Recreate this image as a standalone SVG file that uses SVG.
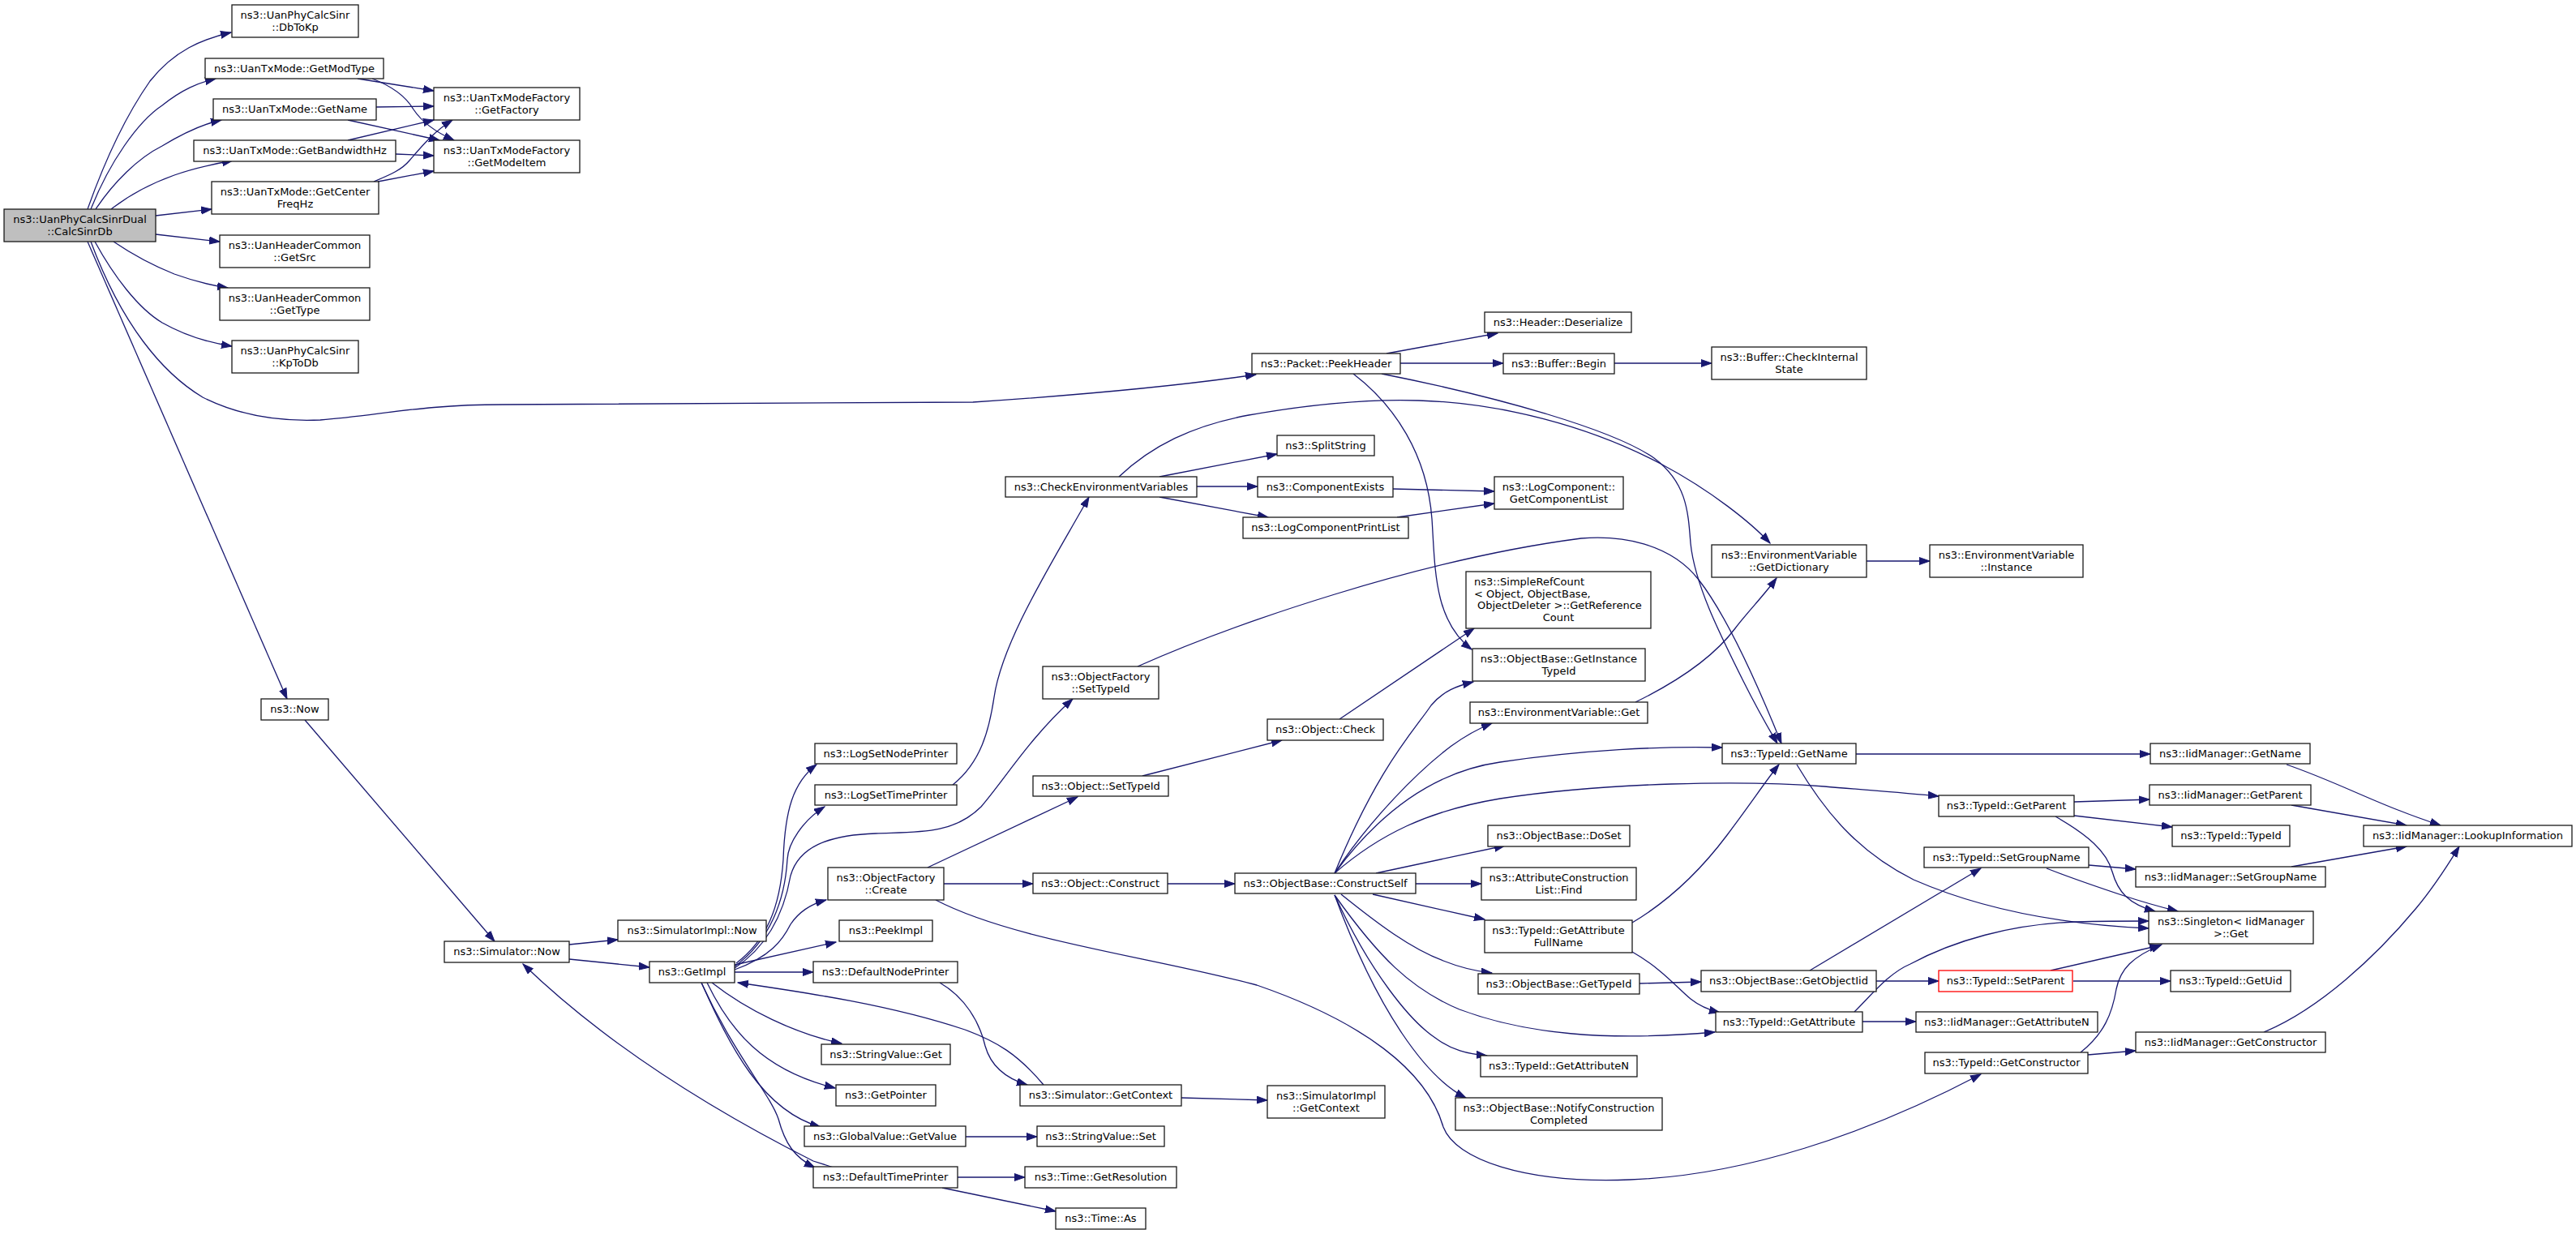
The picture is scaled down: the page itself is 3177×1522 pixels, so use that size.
<svg xmlns="http://www.w3.org/2000/svg" width="3177" height="1522" viewBox="0 0 3177 1522">
<style>
.n rect{fill:#fff;stroke:#1a1a1a;stroke-width:1.3}
.main rect{fill:#bfbfbf}
.red rect{stroke:#ff0000}
text{font-family:"DejaVu Sans","Liberation Sans",sans-serif;font-size:13px;text-anchor:middle;fill:#000}
text.l{text-anchor:start}
#edges path{fill:none;stroke:#191970;stroke-width:1.3;marker-end:url(#ah)}
</style>
<defs>
<marker id="ah" markerUnits="userSpaceOnUse" markerWidth="15" markerHeight="11" refX="13" refY="5" orient="auto">
<path d="M0,0.5 L13,5 L0,9.5 z" fill="#191970" stroke="#191970" stroke-width="1"/>
</marker>
</defs>
<rect width="3177" height="1522" fill="#fff"/>
<g id="edges">
<path d="M108,258 C125,210 150,150 185,100 C215,62 250,48 285,40"/>
<path d="M112,258 C135,200 170,150 200,130 C225,110 245,102 266,97"/>
<path d="M118,258 C140,225 170,195 200,180 C225,165 250,153 273,148"/>
<path d="M137,258 C160,240 190,225 215,216 C240,207 265,202 287,198"/>
<path d="M192,266 L261,258"/>
<path d="M192,289 L271,298"/>
<path d="M140,298 C165,315 190,328 215,338 C240,347 260,352 281,355"/>
<path d="M117,298 C140,340 170,380 200,398 C230,415 260,423 286,427"/>
<path d="M108,298 L354,862"/>
<path d="M112,298 C150,400 200,460 250,490 C300,515 350,520 395,518 C470,512 520,499 620,499 L1200,496 C1320,488 1440,478 1549,462"/>
<path d="M441,97 L535,112"/>
<path d="M459,97 C480,105 500,118 510,135 C520,150 535,162 560,173"/>
<path d="M464,132 L535,131"/>
<path d="M429,148 L542,173"/>
<path d="M429,173 L535,148"/>
<path d="M488,190 L535,192"/>
<path d="M461,224 C480,216 495,210 505,198 C518,183 535,162 558,148"/>
<path d="M466,224 L535,211"/>
<path d="M1710,436 L1847,411"/>
<path d="M1727,448 L1854,448"/>
<path d="M1991,448 L2111,448"/>
<path d="M1669,461 C1720,500 1760,560 1766,640 C1770,700 1768,765 1815,801"/>
<path d="M1704,461 C1850,490 1990,530 2040,565 C2080,595 2082,630 2085,670 C2090,720 2120,780 2150,840 C2170,880 2185,905 2192,917"/>
<path d="M1430,588 L1575,560"/>
<path d="M1476,600 L1551,600"/>
<path d="M1430,613 L1564,638"/>
<path d="M1718,603 L1843,606"/>
<path d="M1723,638 L1843,621"/>
<path d="M1380,588 C1420,550 1470,525 1540,512 C1620,498 1690,492 1750,494 C1850,497 1960,525 2050,573 C2110,605 2160,645 2183,670"/>
<path d="M2302,692 L2380,692"/>
<path d="M2017,866 C2060,845 2110,815 2140,775 C2155,755 2175,735 2191,713"/>
<path d="M376,888 L610,1161"/>
<path d="M702,1165 L762,1159"/>
<path d="M702,1183 L801,1193"/>
<path d="M908,1188 C945,1160 962,1120 966,1060 C968,1000 978,965 1007,943"/>
<path d="M906,1192 C950,1160 968,1110 971,1060 C972,1040 990,1012 1017,995"/>
<path d="M906,1194 C950,1165 968,1120 975,1080 C985,1045 1020,1030 1080,1028 C1130,1026 1175,1030 1210,995 C1240,960 1270,910 1323,862"/>
<path d="M906,1196 C950,1180 965,1160 975,1140 C985,1125 1000,1115 1019,1110"/>
<path d="M906,1190 L1031,1162"/>
<path d="M906,1199 L1003,1199"/>
<path d="M878,1212 C920,1245 980,1275 1038,1287"/>
<path d="M872,1212 C900,1270 940,1320 1030,1342"/>
<path d="M865,1212 C900,1290 940,1370 1012,1390"/>
<path d="M865,1212 C905,1300 950,1350 960,1380 C968,1410 980,1428 1005,1440"/>
<path d="M1028,1440 L1003,1432 C900,1380 760,1300 645,1189"/>
<path d="M1159,1212 C1190,1230 1208,1260 1215,1290 C1222,1315 1240,1330 1267,1338"/>
<path d="M1287,1338 C1255,1300 1230,1285 1190,1270 C1100,1240 1000,1225 910,1212"/>
<path d="M1457,1354 L1563,1357"/>
<path d="M1191,1402 L1279,1402"/>
<path d="M1181,1452 L1264,1452"/>
<path d="M1162,1465 L1302,1494"/>
<path d="M1175,968 C1210,940 1220,900 1226,860 C1236,790 1300,690 1343,613"/>
<path d="M1403,822 C1520,770 1750,690 1950,664 C2000,660 2060,670 2095,715 C2130,760 2170,850 2197,917"/>
<path d="M1652,887 L1818,775"/>
<path d="M1409,957 L1581,913"/>
<path d="M1144,1070 L1329,983"/>
<path d="M1164,1090 L1274,1090"/>
<path d="M1154,1110 C1250,1160 1420,1180 1550,1215 C1680,1260 1760,1320 1780,1390 C1795,1430 1880,1460 2010,1455 C2150,1450 2300,1400 2443,1325"/>
<path d="M1440,1090 L1523,1090"/>
<path d="M1646,1077 C1700,945 1745,900 1765,870 C1780,852 1797,846 1817,841"/>
<path d="M1646,1077 C1690,1010 1750,950 1790,920 C1808,907 1825,898 1840,892"/>
<path d="M1646,1077 C1710,990 1780,950 1850,940 C1950,925 2050,920 2124,922"/>
<path d="M1646,1077 C1700,1030 1760,1000 1850,985 C1980,965 2150,962 2250,970 C2310,975 2350,978 2391,982"/>
<path d="M1697,1077 L1856,1043"/>
<path d="M1746,1090 L1827,1090"/>
<path d="M1693,1103 L1831,1134"/>
<path d="M1654,1103 C1700,1140 1740,1170 1780,1185 C1800,1193 1820,1198 1840,1200"/>
<path d="M1646,1104 C1700,1180 1740,1220 1800,1245 C1880,1275 1980,1285 2115,1273"/>
<path d="M1646,1104 C1690,1200 1740,1260 1770,1280 C1790,1295 1810,1300 1834,1302"/>
<path d="M1646,1104 C1700,1250 1760,1330 1808,1354"/>
<path d="M2013,1138 C2060,1110 2100,1070 2130,1030 C2160,990 2180,960 2194,943"/>
<path d="M2013,1174 C2050,1195 2070,1220 2085,1232 C2095,1240 2105,1245 2121,1249"/>
<path d="M2022,1213 L2098,1211"/>
<path d="M2232,1197 L2443,1071"/>
<path d="M2314,1210 L2391,1210"/>
<path d="M2297,1260 L2363,1260"/>
<path d="M2287,1248 C2310,1225 2330,1200 2356,1189 C2410,1160 2480,1140 2560,1137 C2600,1136 2630,1136 2650,1136"/>
<path d="M2289,930 L2652,930"/>
<path d="M2216,943 C2250,1000 2290,1050 2360,1085 C2440,1120 2540,1140 2650,1145"/>
<path d="M2558,989 L2651,986"/>
<path d="M2558,1006 L2679,1020"/>
<path d="M2535,1007 C2575,1030 2598,1050 2605,1075 C2612,1100 2625,1115 2658,1124"/>
<path d="M2576,1067 L2634,1072"/>
<path d="M2524,1071 C2560,1085 2590,1095 2620,1105 C2650,1115 2670,1120 2686,1124"/>
<path d="M2529,1197 L2664,1166"/>
<path d="M2557,1210 L2677,1210"/>
<path d="M2566,1298 C2595,1275 2605,1250 2610,1220 C2615,1195 2630,1180 2666,1165"/>
<path d="M2575,1301 L2634,1296"/>
<path d="M2792,1273 C2860,1245 2930,1180 2980,1120 C3005,1090 3020,1065 3033,1044"/>
<path d="M2820,943 C2870,960 2920,985 2960,1000 C2980,1008 2995,1013 3010,1018"/>
<path d="M2826,993 L2968,1018"/>
<path d="M2826,1069 L2968,1044"/>
</g>
<g id="n_main" class="n main"><rect x="5" y="258" width="187" height="40"/><text x="98.5" y="275">ns3::UanPhyCalcSinrDual</text><text x="98.5" y="289.5">::CalcSinrDb</text></g>
<g id="n_dbtokp" class="n"><rect x="286" y="6" width="156" height="40"/><text x="364" y="23">ns3::UanPhyCalcSinr</text><text x="364" y="37.5">::DbToKp</text></g>
<g id="n_getmodtype" class="n"><rect x="253" y="72" width="220" height="25"/><text x="363" y="89">ns3::UanTxMode::GetModType</text></g>
<g id="n_txgetname" class="n"><rect x="263" y="122" width="201" height="26"/><text x="363.5" y="139">ns3::UanTxMode::GetName</text></g>
<g id="n_getbw" class="n"><rect x="239" y="173" width="249" height="26"/><text x="363.5" y="190">ns3::UanTxMode::GetBandwidthHz</text></g>
<g id="n_getcf" class="n"><rect x="261" y="224" width="206" height="40"/><text x="364" y="241">ns3::UanTxMode::GetCenter</text><text x="364" y="255.5">FreqHz</text></g>
<g id="n_getfactory" class="n"><rect x="535" y="108" width="180" height="40"/><text x="625" y="125">ns3::UanTxModeFactory</text><text x="625" y="139.5">::GetFactory</text></g>
<g id="n_getmodeitem" class="n"><rect x="535" y="173" width="180" height="40"/><text x="625" y="190">ns3::UanTxModeFactory</text><text x="625" y="204.5">::GetModeItem</text></g>
<g id="n_getsrc" class="n"><rect x="271" y="290" width="185" height="40"/><text x="363.5" y="307">ns3::UanHeaderCommon</text><text x="363.5" y="321.5">::GetSrc</text></g>
<g id="n_gettype" class="n"><rect x="271" y="355" width="185" height="40"/><text x="363.5" y="372">ns3::UanHeaderCommon</text><text x="363.5" y="386.5">::GetType</text></g>
<g id="n_kptodb" class="n"><rect x="286" y="420" width="156" height="40"/><text x="364" y="437">ns3::UanPhyCalcSinr</text><text x="364" y="451.5">::KpToDb</text></g>
<g id="n_peekheader" class="n"><rect x="1544" y="436" width="183" height="25"/><text x="1635.5" y="453">ns3::Packet::PeekHeader</text></g>
<g id="n_deserialize" class="n"><rect x="1831" y="385" width="181" height="25"/><text x="1921.5" y="402">ns3::Header::Deserialize</text></g>
<g id="n_bufbegin" class="n"><rect x="1854" y="436" width="137" height="25"/><text x="1922.5" y="453">ns3::Buffer::Begin</text></g>
<g id="n_checkinternal" class="n"><rect x="2111" y="428" width="191" height="40"/><text x="2206.5" y="445">ns3::Buffer::CheckInternal</text><text x="2206.5" y="459.5">State</text></g>
<g id="n_checkenv" class="n"><rect x="1240" y="588" width="236" height="25"/><text x="1358" y="605">ns3::CheckEnvironmentVariables</text></g>
<g id="n_splitstring" class="n"><rect x="1575" y="537" width="120" height="25"/><text x="1635" y="554">ns3::SplitString</text></g>
<g id="n_compexists" class="n"><rect x="1551" y="588" width="167" height="25"/><text x="1634.5" y="605">ns3::ComponentExists</text></g>
<g id="n_logcompprint" class="n"><rect x="1533" y="638" width="204" height="26"/><text x="1635" y="655">ns3::LogComponentPrintList</text></g>
<g id="n_getcomplist" class="n"><rect x="1843" y="588" width="159" height="40"/><text x="1922.5" y="605">ns3::LogComponent::</text><text x="1922.5" y="619.5">GetComponentList</text></g>
<g id="n_simplerefcount" class="n"><rect x="1808" y="705" width="228" height="70"/><text class="l" x="1818" y="722">ns3::SimpleRefCount</text><text class="l" x="1818" y="736.5">&lt; Object, ObjectBase,</text><text class="l" x="1822" y="751">ObjectDeleter &gt;::GetReference</text><text x="1922" y="765.5">Count</text></g>
<g id="n_getdict" class="n"><rect x="2111" y="672" width="191" height="40"/><text x="2206.5" y="689">ns3::EnvironmentVariable</text><text x="2206.5" y="703.5">::GetDictionary</text></g>
<g id="n_instance" class="n"><rect x="2380" y="672" width="189" height="40"/><text x="2474.5" y="689">ns3::EnvironmentVariable</text><text x="2474.5" y="703.5">::Instance</text></g>
<g id="n_now" class="n"><rect x="322" y="862" width="83" height="26"/><text x="363.5" y="879">ns3::Now</text></g>
<g id="n_ofsettypeid" class="n"><rect x="1286" y="822" width="143" height="40"/><text x="1357.5" y="839">ns3::ObjectFactory</text><text x="1357.5" y="853.5">::SetTypeId</text></g>
<g id="n_logsetnode" class="n"><rect x="1005" y="917" width="175" height="25"/><text x="1092.5" y="934">ns3::LogSetNodePrinter</text></g>
<g id="n_logsettime" class="n"><rect x="1005" y="968" width="175" height="25"/><text x="1092.5" y="985">ns3::LogSetTimePrinter</text></g>
<g id="n_objcheck" class="n"><rect x="1563" y="887" width="143" height="26"/><text x="1634.5" y="904">ns3::Object::Check</text></g>
<g id="n_objsettypeid" class="n"><rect x="1274" y="957" width="167" height="25"/><text x="1357.5" y="974">ns3::Object::SetTypeId</text></g>
<g id="n_ofcreate" class="n"><rect x="1021" y="1070" width="143" height="40"/><text x="1092.5" y="1087">ns3::ObjectFactory</text><text x="1092.5" y="1101.5">::Create</text></g>
<g id="n_objconstruct" class="n"><rect x="1274" y="1077" width="166" height="25"/><text x="1357" y="1094">ns3::Object::Construct</text></g>
<g id="n_constructself" class="n"><rect x="1523" y="1077" width="223" height="25"/><text x="1634.5" y="1094">ns3::ObjectBase::ConstructSelf</text></g>
<g id="n_simimplnow" class="n"><rect x="762" y="1135" width="183" height="26"/><text x="853.5" y="1152">ns3::SimulatorImpl::Now</text></g>
<g id="n_peekimpl" class="n"><rect x="1035" y="1135" width="115" height="26"/><text x="1092.5" y="1152">ns3::PeekImpl</text></g>
<g id="n_getimpl" class="n"><rect x="801" y="1186" width="105" height="26"/><text x="853.5" y="1203">ns3::GetImpl</text></g>
<g id="n_defnodeprinter" class="n"><rect x="1003" y="1186" width="178" height="26"/><text x="1092" y="1203">ns3::DefaultNodePrinter</text></g>
<g id="n_simnow" class="n"><rect x="548" y="1161" width="154" height="26"/><text x="625" y="1178">ns3::Simulator::Now</text></g>
<g id="n_svget" class="n"><rect x="1013" y="1288" width="159" height="25"/><text x="1092.5" y="1305">ns3::StringValue::Get</text></g>
<g id="n_getpointer" class="n"><rect x="1031" y="1338" width="123" height="26"/><text x="1092.5" y="1355">ns3::GetPointer</text></g>
<g id="n_gvgetvalue" class="n"><rect x="992" y="1389" width="199" height="25"/><text x="1091.5" y="1406">ns3::GlobalValue::GetValue</text></g>
<g id="n_deftimeprinter" class="n"><rect x="1003" y="1439" width="178" height="26"/><text x="1092" y="1456">ns3::DefaultTimePrinter</text></g>
<g id="n_simgetcontext" class="n"><rect x="1258" y="1338" width="199" height="26"/><text x="1357.5" y="1355">ns3::Simulator::GetContext</text></g>
<g id="n_svset" class="n"><rect x="1279" y="1389" width="157" height="25"/><text x="1357.5" y="1406">ns3::StringValue::Set</text></g>
<g id="n_timegetres" class="n"><rect x="1264" y="1439" width="187" height="26"/><text x="1357.5" y="1456">ns3::Time::GetResolution</text></g>
<g id="n_timeas" class="n"><rect x="1302" y="1490" width="111" height="26"/><text x="1357.5" y="1507">ns3::Time::As</text></g>
<g id="n_simimplgetctx" class="n"><rect x="1563" y="1339" width="145" height="40"/><text x="1635.5" y="1356">ns3::SimulatorImpl</text><text x="1635.5" y="1370.5">::GetContext</text></g>
<g id="n_acfind" class="n"><rect x="1827" y="1070" width="191" height="40"/><text x="1922.5" y="1087">ns3::AttributeConstruction</text><text x="1922.5" y="1101.5">List::Find</text></g>
<g id="n_getattrfullname" class="n"><rect x="1831" y="1135" width="182" height="40"/><text x="1922" y="1152">ns3::TypeId::GetAttribute</text><text x="1922" y="1166.5">FullName</text></g>
<g id="n_obgettypeid" class="n"><rect x="1823" y="1201" width="199" height="25"/><text x="1922.5" y="1218">ns3::ObjectBase::GetTypeId</text></g>
<g id="n_getobjectiid" class="n"><rect x="2098" y="1197" width="216" height="26"/><text x="2206" y="1214">ns3::ObjectBase::GetObjectIid</text></g>
<g id="n_getattribute" class="n"><rect x="2116" y="1248" width="181" height="25"/><text x="2206.5" y="1265">ns3::TypeId::GetAttribute</text></g>
<g id="n_getattributen" class="n"><rect x="1826" y="1302" width="193" height="26"/><text x="1922.5" y="1319">ns3::TypeId::GetAttributeN</text></g>
<g id="n_notify" class="n"><rect x="1795" y="1354" width="255" height="40"/><text x="1922.5" y="1371">ns3::ObjectBase::NotifyConstruction</text><text x="1922.5" y="1385.5">Completed</text></g>
<g id="n_getinstancetypeid" class="n"><rect x="1816" y="800" width="213" height="40"/><text x="1922.5" y="817">ns3::ObjectBase::GetInstance</text><text x="1922.5" y="831.5">TypeId</text></g>
<g id="n_envget" class="n"><rect x="1813" y="866" width="219" height="26"/><text x="1922.5" y="883">ns3::EnvironmentVariable::Get</text></g>
<g id="n_tidgetname" class="n"><rect x="2124" y="917" width="165" height="25"/><text x="2206.5" y="934">ns3::TypeId::GetName</text></g>
<g id="n_doset" class="n"><rect x="1835" y="1018" width="175" height="26"/><text x="1922.5" y="1035">ns3::ObjectBase::DoSet</text></g>
<g id="n_iidgetname" class="n"><rect x="2652" y="917" width="197" height="25"/><text x="2750.5" y="934">ns3::IidManager::GetName</text></g>
<g id="n_tidgetparent" class="n"><rect x="2391" y="981" width="167" height="26"/><text x="2474.5" y="998">ns3::TypeId::GetParent</text></g>
<g id="n_iidgetparent" class="n"><rect x="2651" y="968" width="199" height="25"/><text x="2750.5" y="985">ns3::IidManager::GetParent</text></g>
<g id="n_tidtypeid" class="n"><rect x="2679" y="1018" width="145" height="26"/><text x="2751.5" y="1035">ns3::TypeId::TypeId</text></g>
<g id="n_lookup" class="n"><rect x="2915" y="1018" width="257" height="26"/><text x="3043.5" y="1035">ns3::IidManager::LookupInformation</text></g>
<g id="n_tidsetgroup" class="n"><rect x="2373" y="1045" width="203" height="25"/><text x="2474.5" y="1062">ns3::TypeId::SetGroupName</text></g>
<g id="n_iidsetgroup" class="n"><rect x="2634" y="1069" width="234" height="25"/><text x="2751" y="1086">ns3::IidManager::SetGroupName</text></g>
<g id="n_singleton" class="n"><rect x="2650" y="1124" width="203" height="40"/><text x="2751.5" y="1141">ns3::Singleton&lt; IidManager</text><text x="2751.5" y="1155.5">&gt;::Get</text></g>
<g id="n_setparent" class="n red"><rect x="2391" y="1197" width="165" height="26"/><text x="2473.5" y="1214">ns3::TypeId::SetParent</text></g>
<g id="n_getuid" class="n"><rect x="2677" y="1197" width="148" height="26"/><text x="2751" y="1214">ns3::TypeId::GetUid</text></g>
<g id="n_iidgetattrn" class="n"><rect x="2363" y="1248" width="224" height="25"/><text x="2475" y="1265">ns3::IidManager::GetAttributeN</text></g>
<g id="n_iidgetctor" class="n"><rect x="2634" y="1273" width="234" height="25"/><text x="2751" y="1290">ns3::IidManager::GetConstructor</text></g>
<g id="n_tidgetctor" class="n"><rect x="2374" y="1298" width="201" height="26"/><text x="2474.5" y="1315">ns3::TypeId::GetConstructor</text></g>
</svg>
